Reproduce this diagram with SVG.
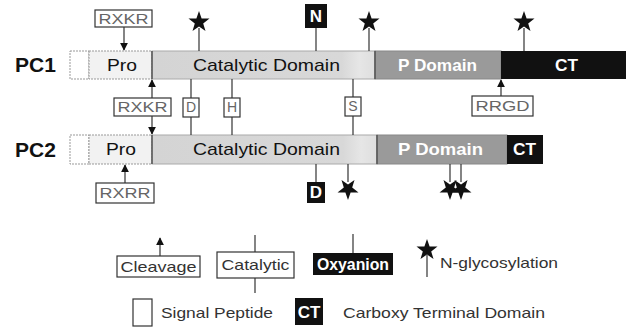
<svg xmlns="http://www.w3.org/2000/svg" width="627" height="327" viewBox="0 0 627 327">
<style>
.lbl{font-family:"Liberation Sans",Arial,sans-serif;font-weight:bold;font-size:21px;fill:#111}
.dom{font-family:"Liberation Sans",Arial,sans-serif;font-size:17px;fill:#111}
.wdom{font-family:"Liberation Sans",Arial,sans-serif;font-size:17px;font-weight:bold;fill:#fff}
.site{font-family:"Liberation Sans",Arial,sans-serif;font-size:14px;fill:#666}
.leg{font-family:"Liberation Sans",Arial,sans-serif;font-size:15px;fill:#333}
.box{fill:#fff;stroke:#333;stroke-width:1.2}
.bbox{fill:#111}
.ln{stroke:#333;stroke-width:1.2;fill:none}
.div{stroke:#555;stroke-width:1.5}
.sig{fill:#fff;stroke:#999;stroke-width:1;stroke-dasharray:2 1}
.pro{fill:#f2f2f2;stroke:#999;stroke-width:1;stroke-dasharray:2 1}
.cat{fill:url(#catg);stroke:#aaa;stroke-width:1}
.pdom{fill:#9a9a9a;stroke:#888;stroke-width:1}
.ct{fill:#111}
.star{fill:#111}
</style>
<defs>
<linearGradient id="catg" x1="0" y1="0" x2="1" y2="0">
<stop offset="0" stop-color="#d4d4d4"/>
<stop offset="0.85" stop-color="#d8d8d8"/>
<stop offset="0.93" stop-color="#e6e6e6"/>
<stop offset="1" stop-color="#dedede"/>
</linearGradient>
<marker id="ah" viewBox="0 0 10 10" refX="9" refY="5" markerWidth="8" markerHeight="8" orient="auto-start-reverse" markerUnits="userSpaceOnUse">
<path d="M0,0 L10,5 L0,10 z" fill="#111"/>
</marker>
<path id="st" d="M0,-11 L2.6,-3.6 L10.5,-3.4 L4.2,1.4 L6.5,9 L0,4.5 L-6.5,9 L-4.2,1.4 L-10.5,-3.4 L-2.6,-3.6 Z"/>
<path id="sd" d="M0,11 L2.6,3.6 L10.5,3.4 L4.2,-1.4 L6.5,-9 L0,-4.5 L-6.5,-9 L-4.2,-1.4 L-10.5,3.4 L-2.6,3.6 Z"/>
</defs>

<g id="pc1">
<text class="lbl" x="15" y="72">PC1</text>
<rect class="sig" x="70" y="51" width="19" height="28"/>
<rect class="pro" x="89" y="51" width="63" height="28"/>
<rect class="cat" x="152" y="51" width="223" height="28"/>
<rect class="pdom" x="375" y="51" width="126" height="28"/>
<rect class="ct" x="501" y="51" width="125" height="28"/>
<line class="div" x1="152" y1="51" x2="152" y2="79"/>
<line class="div" x1="375" y1="51" x2="375" y2="79"/>
<text class="dom" x="107" y="71" textLength="30" lengthAdjust="spacingAndGlyphs">Pro</text>
<text class="dom" x="193" y="71" textLength="147" lengthAdjust="spacingAndGlyphs">Catalytic Domain</text>
<text class="wdom" x="398" y="71" textLength="79" lengthAdjust="spacingAndGlyphs">P Domain</text>
<text class="wdom" x="555" y="71" textLength="23" lengthAdjust="spacingAndGlyphs">CT</text>
</g>

<g id="pc2">
<text class="lbl" x="15" y="157">PC2</text>
<rect class="sig" x="70" y="135" width="19" height="29"/>
<rect class="pro" x="89" y="135" width="63" height="29"/>
<rect class="cat" x="152" y="135" width="225" height="29"/>
<rect class="pdom" x="377" y="135" width="130" height="29"/>
<rect class="ct" x="507" y="135" width="36" height="29"/>
<line class="div" x1="152" y1="135" x2="152" y2="164"/>
<line class="div" x1="377" y1="135" x2="377" y2="164"/>
<text class="dom" x="106" y="155" textLength="30" lengthAdjust="spacingAndGlyphs">Pro</text>
<text class="dom" x="193" y="155" textLength="147" lengthAdjust="spacingAndGlyphs">Catalytic Domain</text>
<text class="wdom" x="398" y="155" textLength="85" lengthAdjust="spacingAndGlyphs">P Domain</text>
<text class="wdom" x="513" y="155" textLength="23" lengthAdjust="spacingAndGlyphs">CT</text>
</g>

<g id="connectors">
<line class="ln" x1="124" y1="27" x2="124" y2="50" marker-end="url(#ah)"/>
<line class="ln" x1="199" y1="28" x2="199" y2="51"/>
<line class="ln" x1="316" y1="28" x2="316" y2="51"/>
<line class="ln" x1="369" y1="28" x2="369" y2="51"/>
<line class="ln" x1="524" y1="28" x2="524" y2="51"/>
<line class="ln" x1="152" y1="98" x2="152" y2="80" marker-end="url(#ah)"/>
<line class="ln" x1="152" y1="116" x2="152" y2="134" marker-end="url(#ah)"/>
<line class="ln" x1="191" y1="79" x2="191" y2="135"/>
<line class="ln" x1="232" y1="79" x2="232" y2="135"/>
<line class="ln" x1="353" y1="79" x2="353" y2="135"/>
<line class="ln" x1="501" y1="96" x2="501" y2="80" marker-end="url(#ah)"/>
<line class="ln" x1="125" y1="183" x2="125" y2="165" marker-end="url(#ah)"/>
<line class="ln" x1="316" y1="164" x2="316" y2="182"/>
<line class="ln" x1="348" y1="164" x2="348" y2="182"/>
<line class="ln" x1="450" y1="164" x2="450" y2="182"/>
<line class="ln" x1="461" y1="164" x2="461" y2="182"/>
</g>

<g id="site-rxkr1"><rect class="box" x="95" y="10" width="57" height="17"/><text class="site" x="123.5" y="24" text-anchor="middle" textLength="50" lengthAdjust="spacingAndGlyphs">RXKR</text></g>
<g id="glyc1"><use href="#st" class="star" x="199" y="22"/></g>
<g id="oxy-n"><rect class="bbox" x="305" y="4" width="22" height="24"/><text class="wdom" x="316" y="22" text-anchor="middle" font-size="15">N</text></g>
<g id="glyc2"><use href="#st" class="star" x="369" y="22"/></g>
<g id="glyc3"><use href="#st" class="star" x="524" y="22"/></g>
<g id="site-rxkr2"><rect class="box" x="114" y="98" width="57" height="18"/><text class="site" x="142.5" y="112" text-anchor="middle" textLength="50" lengthAdjust="spacingAndGlyphs">RXKR</text></g>
<g id="cat-d"><rect class="box" x="183" y="98" width="16" height="19"/><text class="site" x="191" y="112" text-anchor="middle">D</text></g>
<g id="cat-h"><rect class="box" x="224" y="98" width="16" height="19"/><text class="site" x="232" y="112" text-anchor="middle">H</text></g>
<g id="cat-s"><rect class="box" x="345" y="97" width="16" height="19"/><text class="site" x="353" y="111" text-anchor="middle">S</text></g>
<g id="site-rrgd"><rect class="box" x="472" y="96" width="61" height="20"/><text class="site" x="502.5" y="111" text-anchor="middle" textLength="54" lengthAdjust="spacingAndGlyphs">RRGD</text></g>
<g id="site-rxrr"><rect class="box" x="96" y="183" width="58" height="20"/><text class="site" x="125" y="198" text-anchor="middle" textLength="51" lengthAdjust="spacingAndGlyphs">RXRR</text></g>
<g id="oxy-d"><rect class="bbox" x="307" y="182" width="18" height="21"/><text class="wdom" x="316" y="198" text-anchor="middle" font-size="14">D</text></g>
<g id="glyc4"><use href="#sd" class="star" x="348" y="189"/></g>
<g id="glyc5"><use href="#sd" class="star" x="450" y="189"/></g>
<g id="glyc6"><use href="#sd" class="star" x="461" y="189"/></g>

<g id="legend">
<line class="ln" x1="160" y1="256" x2="160" y2="238" marker-end="url(#ah)"/>
<rect class="box" x="117" y="256" width="83" height="21"/>
<text class="leg" x="158.5" y="272" text-anchor="middle" textLength="76" lengthAdjust="spacingAndGlyphs">Cleavage</text>
<line class="ln" x1="255" y1="235" x2="255" y2="293"/>
<rect class="box" x="217" y="252" width="77" height="26"/>
<text class="leg" x="255.5" y="270" text-anchor="middle" textLength="68" lengthAdjust="spacingAndGlyphs">Catalytic</text>
<line class="ln" x1="353" y1="234" x2="353" y2="253"/>
<rect class="bbox" x="313" y="253" width="80" height="22"/>
<text class="wdom" x="353" y="270" text-anchor="middle" font-size="15" textLength="72" lengthAdjust="spacingAndGlyphs">Oxyanion</text>
<line class="ln" x1="427" y1="255" x2="427" y2="277"/>
<use href="#st" class="star" x="427" y="250"/>
<text class="leg" x="440" y="268" textLength="118" lengthAdjust="spacingAndGlyphs">N-glycosylation</text>
<rect class="box" x="133" y="299" width="19" height="27" stroke="#999"/>
<text class="leg" x="161" y="318" textLength="112" lengthAdjust="spacingAndGlyphs">Signal Peptide</text>
<rect class="bbox" x="295" y="298" width="28" height="27"/>
<text class="wdom" x="309" y="318" text-anchor="middle" font-size="16">CT</text>
<text class="leg" x="343" y="318" textLength="202" lengthAdjust="spacingAndGlyphs">Carboxy Terminal Domain</text>
</g>
</svg>
